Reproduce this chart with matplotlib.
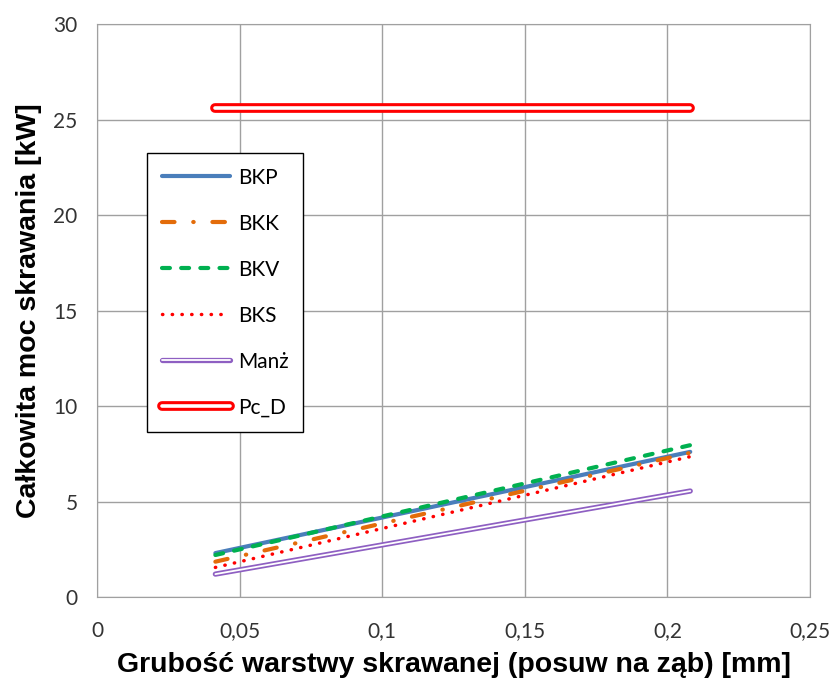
import matplotlib.pyplot as plt
import matplotlib.patheffects as pe
from matplotlib.ticker import FuncFormatter

# feed per tooth [mm] and total cutting power [kW]
fz = [0.0415, 0.208]
bkp = [2.3, 7.6]
bkk = [1.85, 7.55]
bkv = [2.2, 7.95]
bks = [1.55, 7.35]
manz = [1.2, 5.55]
pc_d = [25.6, 25.6]

plt.rcParams['font.family'] = ['Lato', 'DejaVu Sans']

fig = plt.figure(figsize=(8.32, 6.86), dpi=100)
ax = fig.add_axes([0.1166, 0.1297, 0.857, 0.8353])

ax.plot(fz, bkp, color='#4a7ebb', lw=3, solid_capstyle='round', label='BKP')
ax.plot(fz, bkk, color='#e36c0a', lw=3, linestyle=(0, (3, 4.5, 0.1, 4.5)),
        dash_capstyle='round', label='BKK')
ax.plot(fz, bkv, color='#00b050', lw=3, linestyle=(0, (1.9, 2.7)),
        dash_capstyle='round', label='BKV')
ax.plot(fz, bks, color='#ff0000', lw=2.5, linestyle=(0, (0.1, 2.7)),
        dash_capstyle='round', label='BKS')
ax.plot(fz, manz, color='white', lw=1.3, solid_capstyle='round', label='Manż',
        path_effects=[pe.Stroke(linewidth=3.8, foreground='#8e5fc2'), pe.Normal()])
ax.plot(fz, pc_d, color='white', lw=2.6, solid_capstyle='round', label='Pc_D',
        path_effects=[pe.Stroke(linewidth=7, foreground='#ff0000'), pe.Normal()])

ax.set_xlim(0, 0.25)
ax.set_ylim(0, 30)
ax.set_xticks([0, 0.05, 0.1, 0.15, 0.2, 0.25])
ax.set_yticks(range(0, 31, 5))
ax.xaxis.set_major_formatter(FuncFormatter(lambda v, p: ('%g' % round(v, 2)).replace('.', ',')))
ax.tick_params(length=0, labelsize=15, colors='#333333')
ax.tick_params(axis='x', pad=17)
ax.tick_params(axis='y', pad=14)
ax.grid(True, color='#a0a0a0', lw=1)
ax.set_axisbelow(True)
for s in ax.spines.values():
    s.set_color('#a0a0a0')

label_font = dict(family='Liberation Sans', fontsize=20.5, fontweight='bold')
ax.set_xlabel('Grubość warstwy skrawanej (posuw na ząb) [mm]', labelpad=8, **label_font)
ax.set_ylabel('Całkowita moc skrawania [kW]', labelpad=8, **label_font)

leg = ax.legend(loc='upper left', bbox_to_anchor=(147 / 832, 1 - 153 / 686),
                bbox_transform=fig.transFigure, fontsize=15, handlelength=3.3,
                labelspacing=1.25, borderpad=0.7, handletextpad=0.35,
                fancybox=False, framealpha=1, edgecolor='black', borderaxespad=0)
leg.get_frame().set_linewidth(1)

fig.savefig('out.png', dpi=100)
